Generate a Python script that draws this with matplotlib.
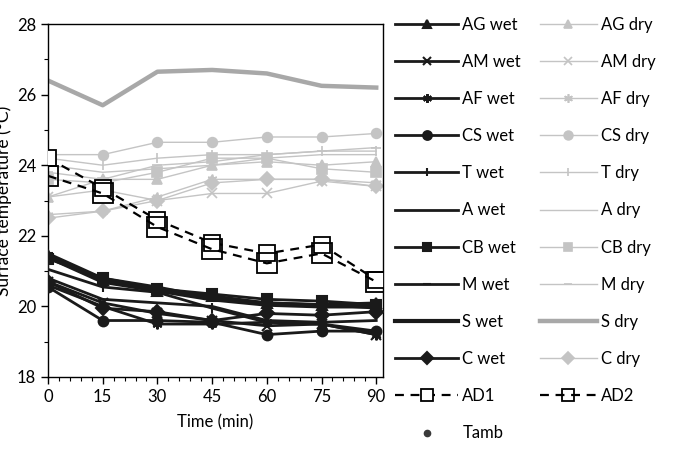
import matplotlib
matplotlib.use("Agg")
import matplotlib.pyplot as plt
from matplotlib.lines import Line2D
from matplotlib.ticker import MultipleLocator

plt.rcParams['font.family'] = ['Lato', 'DejaVu Sans']

# time points (min)
time = [0, 15, 30, 45, 60, 75, 90]

# wet samples (black)
ag_wet = [21.45, 20.75, 20.45, 20.3, 20.1, 20.05, 20.1]
am_wet = [20.7, 20.1, 19.8, 19.6, 19.45, 19.5, 19.2]
af_wet = [20.6, 20.0, 19.5, 19.5, 19.55, 19.5, 19.2]
cs_wet = [20.55, 19.6, 19.6, 19.55, 19.2, 19.3, 19.3]
t_wet = [21.05, 20.55, 20.4, 19.95, 19.55, 19.5, 19.3]
a_wet = [20.8, 20.2, 20.1, 20.0, 19.6, 19.55, 19.6]
cb_wet = [21.35, 20.8, 20.5, 20.35, 20.2, 20.15, 20.05]
m_wet = [21.5, 20.8, 20.55, 20.25, 20.1, 20.05, 19.95]
s_wet = [21.4, 20.7, 20.45, 20.2, 20.05, 20.0, 20.0]
c_wet = [20.7, 19.95, 19.85, 19.6, 19.8, 19.75, 19.85]

# dry samples (grey)
ag_dry = [23.1, 23.6, 23.6, 24.0, 24.1, 24.0, 24.1]
am_dry = [23.1, 23.3, 23.0, 23.2, 23.2, 23.55, 23.4]
af_dry = [22.6, 22.7, 23.1, 23.6, 23.6, 23.6, 23.5]
cs_dry = [24.3, 24.3, 24.65, 24.65, 24.8, 24.8, 24.9]
t_dry = [24.2, 24.0, 24.2, 24.3, 24.3, 24.4, 24.4]
a_dry = [24.0, 23.8, 23.9, 24.0, 24.2, 24.3, 24.3]
cb_dry = [23.6, 23.5, 23.8, 24.2, 24.2, 23.9, 23.8]
m_dry = [23.8, 23.6, 24.0, 24.1, 24.3, 24.4, 24.5]
s_dry = [26.4, 25.7, 26.65, 26.7, 26.6, 26.25, 26.2]
c_dry = [22.5, 22.7, 23.0, 23.5, 23.6, 23.6, 23.4]

# air-dried samples
ad1 = [24.2, 23.35, 22.45, 21.8, 21.5, 21.75, 20.75]
ad2 = [23.7, 23.2, 22.25, 21.62, 21.22, 21.5, 20.7]

wet = [("AG wet", ag_wet, "^"), ("AM wet", am_wet, "x"), ("AF wet", af_wet, (6, 2, 0)),
       ("CS wet", cs_wet, "o"), ("T wet", t_wet, "|"), ("A wet", a_wet, ""),
       ("CB wet", cb_wet, "s"), ("M wet", m_wet, "_"), ("S wet", s_wet, ""),
       ("C wet", c_wet, "D")]
dry = [("AG dry", ag_dry, "^"), ("AM dry", am_dry, "x"), ("AF dry", af_dry, (6, 2, 0)),
       ("CS dry", cs_dry, "o"), ("T dry", t_dry, "|"), ("A dry", a_dry, ""),
       ("CB dry", cb_dry, "s"), ("M dry", m_dry, "_"), ("S dry", s_dry, ""),
       ("C dry", c_dry, "D")]

grey = "#c4c4c4"

fig = plt.figure(figsize=(6.75, 4.49), dpi=100)
ax = fig.add_axes([0.0711, 0.1604, 0.496, 0.786])

dry_handles = []
for label, vals, mk in dry:
    lw = 3.2 if label == "S dry" else 1.0
    col = "#a8a8a8" if label == "S dry" else grey
    h, = ax.plot(time, vals, color=col, lw=lw, marker=mk, ms=7, mew=1.2,
                 label=label, zorder=2)
    dry_handles.append(h)

wet_handles = []
for label, vals, mk in wet:
    lw = 3.0 if label == "S wet" else 2.0
    h, = ax.plot(time, vals, color="#1a1a1a", lw=lw, marker=mk, ms=7, mew=1.5,
                 label=label, zorder=3)
    wet_handles.append(h)

h_ad1, = ax.plot(time, ad1, color="black", lw=1.6, ls=(0, (4, 3)), marker="s",
                 ms=11, mfc="white", mec="black", mew=1.3, label="AD1", zorder=4)
h_ad2, = ax.plot(time, ad2, color="black", lw=1.6, ls=(0, (4, 3)), marker="s",
                 ms=15, mfc="none", mec="black", mew=1.3, label="AD2", zorder=4)
h_tamb = Line2D([], [], ls="none", marker="o", ms=5, color="#3a3a3a", label="Tamb")

ax.set_xlim(0, 91.8)
ax.set_ylim(18, 28)
ax.set_xticks(time)
ax.set_yticks([18, 20, 22, 24, 26, 28])
ax.xaxis.set_minor_locator(MultipleLocator(3))
ax.yaxis.set_minor_locator(MultipleLocator(1))
ax.tick_params(axis="both", which="major", labelsize=12, length=5, width=1, direction="out")
ax.tick_params(axis="both", which="minor", length=3, width=0.8, direction="out")
for sp in ax.spines.values():
    sp.set_linewidth(1.0)
ax.set_xlabel("Time (min)", fontsize=12, labelpad=7)
fig.text(0.006, 0.553, "Surface temperature (\u00b0C)", rotation=90, fontsize=12.5,
         ha="center", va="center")

leg_kw = dict(frameon=False, fontsize=12, labelspacing=1.27, handletextpad=0.25,
              borderaxespad=0, borderpad=0, markerscale=0.9)
leg1 = fig.legend(handles=wet_handles + [h_ad1, h_tamb], loc="upper left",
                  bbox_to_anchor=(0.585, 0.963), handlelength=3.8, **leg_kw)
for h in leg1.legend_handles:
    if h.get_label() == "AD1":
        h.set_markersize(8)
leg2 = fig.legend(handles=dry_handles + [h_ad2], loc="upper left",
                  bbox_to_anchor=(0.80, 0.963), handlelength=3.4, **leg_kw)
for h in leg2.legend_handles:
    if h.get_label() == "AD2":
        h.set_markersize(8)

fig.savefig("out.png", dpi=100)
